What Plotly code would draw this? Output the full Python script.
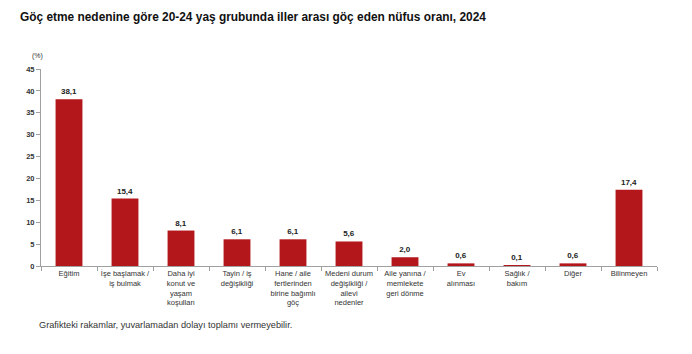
import plotly.graph_objects as go

categories = [
    "Eğitim",
    "İşe başlamak /<br>iş bulmak",
    "Daha iyi<br>konut ve<br>yaşam<br>koşulları",
    "Tayin / iş<br>değişikliği",
    "Hane / aile<br>fertlerinden<br>birine bağımlı<br>göç",
    "Medeni durum<br>değişikliği /<br>ailevi<br>nedenler",
    "Aile yanına /<br>memlekete<br>geri dönme",
    "Ev<br>alınması",
    "Sağlık /<br>bakım",
    "Diğer",
    "Bilinmeyen",
]
values = [38.1, 15.4, 8.1, 6.1, 6.1, 5.6, 2.0, 0.6, 0.1, 0.6, 17.4]
labels = [f"{v:.1f}".replace(".", ",") for v in values]
yticks = [0, 5, 10, 15, 20, 25, 30, 35, 40, 45]

FONT = "Liberation Sans, Arial, sans-serif"

fig = go.Figure(go.Bar(
    x=categories, y=values, text=labels, textposition="outside",
    textfont=dict(family=FONT, size=8, color="#222222"),
    texttemplate="<b>%{text}</b>",
    marker=dict(color="#B3171C", line=dict(width=0)),
    width=0.48, cliponaxis=False,
))

fig.update_layout(
    width=692, height=354,
    margin=dict(l=41, r=35, t=69, b=88),
    plot_bgcolor="white", paper_bgcolor="white",
    showlegend=False,
    font=dict(family=FONT, size=8, color="#333333"),
    title=dict(text="<b>Göç etme nedenine göre 20-24 yaş grubunda iller arası göç eden nüfus oranı, 2024</b>",
               x=20/692, xref="container", xanchor="left",
               y=1-17/354, yref="container", yanchor="middle",
               font=dict(family=FONT, size=11.9, color="#111111")),
)

fig.update_xaxes(
    showline=True, linecolor="#A0A0A0", linewidth=1,
    ticks="outside", tickson="boundaries", ticklen=4, tickcolor="#A0A0A0",
    tickfont=dict(family=FONT, size=7.5, color="#333333"),
    tickangle=0, showgrid=False,
)
fig.update_yaxes(
    range=[0, 45], tickvals=yticks, ticktext=[f"<b>{t}</b>" for t in yticks],
    showline=True, linecolor="#A0A0A0", linewidth=1,
    ticks="outside", ticklen=4, tickcolor="#A0A0A0",
    tickfont=dict(family=FONT, size=7.5, color="#333333"),
    showgrid=False, zeroline=False,
)

fig.add_annotation(text="(%)", xref="paper", yref="paper", x=-0.005, y=1.066,
                   xanchor="center", yanchor="middle", showarrow=False,
                   font=dict(family=FONT, size=7, color="#333333"))
fig.add_annotation(text="Grafikteki rakamlar, yuvarlamadan dolayı toplamı vermeyebilir.",
                   xref="paper", yref="paper", x=-0.006, y=-0.2995,
                   xanchor="left", yanchor="middle", showarrow=False,
                   font=dict(family=FONT, size=9.2, color="#333333"))

fig.write_html("out.html")
